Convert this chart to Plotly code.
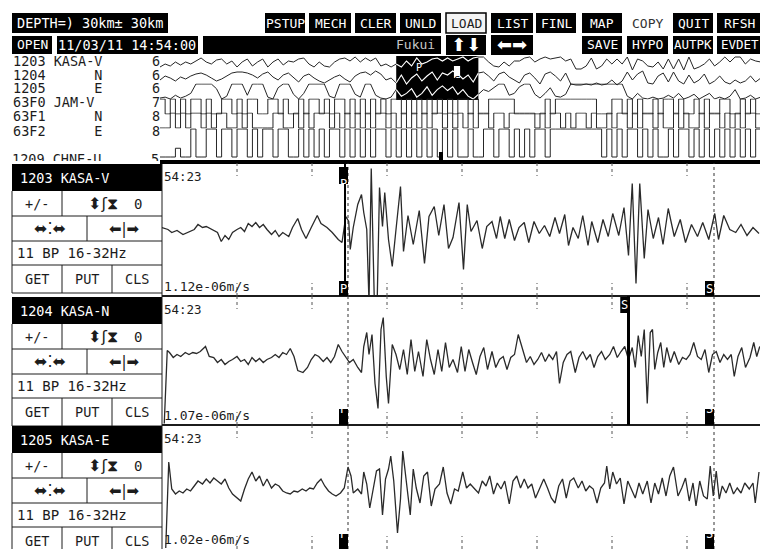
import numpy as np
import plotly.graph_objects as go

# ------------------------------------------------------------------
# Waveform data (amplitude in counts, time in s after 14:54:23)
# ------------------------------------------------------------------
KASA_V_T = [0.00, 0.08, 0.13, 0.20, 0.28, 0.36, 0.43, 0.48, 0.54, 0.59,
            0.66, 0.74, 0.79, 0.84, 0.89, 0.94, 1.00, 1.05, 1.10, 1.15,
            1.20, 1.25, 1.30, 1.35, 1.40, 1.46, 1.51, 1.56, 1.61, 1.69,
            1.74, 1.81, 1.86, 1.92, 1.99, 2.07, 2.12, 2.20, 2.27, 2.35,
            2.40, 2.45,
            2.49, 2.51, 2.55, 2.61, 2.66, 2.69, 2.73, 2.76, 2.79, 2.83,
            2.87, 2.90, 2.94, 2.97, 3.02, 3.07, 3.12, 3.18, 3.22, 3.28,
            3.35, 3.43, 3.50, 3.56, 3.63, 3.69, 3.76, 3.82, 3.88, 3.96,
            4.02, 4.07, 4.12, 4.20, 4.27, 4.33, 4.40, 4.46, 4.51, 4.57,
            4.63, 4.70, 4.76, 4.83, 4.89, 4.96, 5.03, 5.10, 5.17, 5.24,
            5.30, 5.37, 5.42, 5.48, 5.55, 5.61, 5.68, 5.73, 5.81, 5.88,
            5.95, 6.01, 6.09, 6.16, 6.22, 6.27, 6.32, 6.37, 6.43, 6.48,
            6.55, 6.62, 6.68, 6.75, 6.83, 6.91, 6.98, 7.06, 7.14, 7.21,
            7.29, 7.37, 7.42, 7.49, 7.57, 7.65, 7.72, 7.80, 7.88, 7.96]
KASA_V_A = [2, 0, -3, -1, -5, -2, 0, 5, 2, 3,
            0, -3, -12, -6, -10, -3, 0, 2, -2, 6,
            3, 7, 2, 5, 0, -5, -1, -7, -3, -7,
            2, 11, 0, -9, 2, 14, 6, 2, -3, -10,
            -13, 13,
            8, -20, 2, 25, 35, 17, 0, -73, 61, -69,
            -69, 42, 3, 37, -10, -37, 0, 43, -22, 14,
            -15, 19, -34, 13, 23, -6, 25, -19, -8, 27,
            -40, 25, -2, 9, -19, 3, 8, -9, 13, -9,
            10, -11, 2, 7, -13, 8, -4, 4, -7, 12,
            -4, 15, -16, 2, -9, 14, -16, 8, -13, 10,
            -7, 16, -6, 22, -26, 46, -54, 46, -29, 20,
            -9, 12, -15, 21, -7, 10, -13, 5, -7, 7,
            -10, 16, -10, 14, 0, -3, 5, -6, 2, -4]

KASA_N_T = [0.03, 0.07, 0.10, 0.15, 0.20, 0.25, 0.31, 0.36, 0.41, 0.46,
            0.51, 0.58, 0.63, 0.69, 0.74, 0.79, 0.84, 0.89, 0.94, 1.00,
            1.05, 1.10, 1.15, 1.20, 1.25, 1.30, 1.35, 1.40, 1.46, 1.51,
            1.56, 1.61, 1.66, 1.71, 1.76, 1.81, 1.88, 1.94, 1.99, 2.04,
            2.09, 2.15, 2.20, 2.25, 2.30, 2.35, 2.40, 2.45, 2.50, 2.55,
            2.61, 2.66, 2.69, 2.73, 2.76, 2.80, 2.84, 2.88, 2.92, 2.95,
            2.99, 3.02, 3.07, 3.12, 3.17, 3.22, 3.27, 3.32, 3.37, 3.42,
            3.48, 3.53, 3.58, 3.63, 3.68, 3.73, 3.78, 3.83, 3.88, 3.94,
            3.99, 4.04, 4.09, 4.14, 4.19, 4.24, 4.29, 4.34, 4.40, 4.45,
            4.50, 4.55, 4.60, 4.65, 4.70, 4.75, 4.80, 4.86, 4.91, 4.96,
            5.01, 5.06, 5.11, 5.16, 5.21, 5.26, 5.30, 5.35, 5.40, 5.45,
            5.51, 5.56, 5.61, 5.66, 5.71, 5.76, 5.81, 5.86, 5.91, 5.97,
            6.02, 6.07, 6.12, 6.17, 6.22, 6.27, 6.31, 6.35, 6.39, 6.43,
            6.47, 6.51, 6.54, 6.57, 6.61, 6.65, 6.69, 6.73, 6.78, 6.83,
            6.89, 6.94, 6.99, 7.04, 7.09, 7.14, 7.19, 7.24, 7.29, 7.34,
            7.39, 7.44, 7.49, 7.54, 7.59, 7.63, 7.68, 7.73, 7.78, 7.84,
            7.89, 7.93, 7.97]
KASA_N_A = [-63, 10, 8, 3, 6, 4, 8, 6, 8, 7,
            9, 14, 4, 3, -2, 1, -4, -1, 1, 4,
            -1, 1, -4, 3, -1, 2, -2, 1, 3, 6,
            3, 8, 6, 12, 4, -10, -12, -7, 1, 6,
            4, -1, 3, -2, 4, 16, 9, 4, -2, 1,
            -7, -12, 14, 28, 6, 26, -23, -48, 31, 43,
            -16, -43, 16, 6, -9, 11, -14, 21, -11, 9,
            -16, 21, 1, -14, 11, -11, 18, -7, 1, -12,
            14, -11, 11, -2, -14, 4, 13, -9, 9, -7,
            1, 4, -9, 3, 6, 26, 14, -2, 4, -4,
            1, 8, -1, 6, 1, 9, -23, -2, 6, 9,
            -12, 3, 9, 1, 6, -7, 4, 9, 1, 6,
            14, 3, 9, 14, 1, 13, -7, 25, 4, 31,
            -43, 28, 31, -9, 8, 18, -7, 13, -2, 9,
            -4, 3, 1, 6, 18, 4, 1, 11, -12, 6,
            9, -2, 6, 1, 6, -16, 4, 13, -7, 3,
            18, 4, 14]

KASA_E_T = [0.05, 0.09, 0.13, 0.18, 0.23, 0.28, 0.33, 0.38, 0.43, 0.48,
            0.54, 0.59, 0.64, 0.69, 0.74, 0.79, 0.84, 0.89, 0.94, 1.00,
            1.05, 1.10, 1.15, 1.20, 1.25, 1.30, 1.35, 1.40, 1.46, 1.51,
            1.56, 1.61, 1.66, 1.71, 1.76, 1.81, 1.87, 1.92, 1.97, 2.02,
            2.07, 2.12, 2.17, 2.22, 2.27, 2.32, 2.38, 2.43, 2.48, 2.52,
            2.55, 2.61, 2.66, 2.69, 2.73, 2.77, 2.82, 2.86, 2.90, 2.94,
            2.98, 3.02, 3.05, 3.09, 3.14, 3.18, 3.21, 3.26, 3.31, 3.35,
            3.39, 3.44, 3.49, 3.54, 3.59, 3.64, 3.70, 3.75, 3.80, 3.85,
            3.90, 3.95, 4.01, 4.06, 4.11, 4.17, 4.22, 4.27, 4.32, 4.37,
            4.42, 4.47, 4.52, 4.57, 4.63, 4.68, 4.73, 4.78, 4.83, 4.88,
            4.93, 4.98, 5.03, 5.09, 5.14, 5.19, 5.24, 5.29, 5.34, 5.39,
            5.44, 5.49, 5.55, 5.60, 5.65, 5.70, 5.75, 5.80, 5.85, 5.90,
            5.93, 5.97, 6.01, 6.06, 6.11, 6.16, 6.21, 6.26, 6.31, 6.36,
            6.41, 6.47, 6.52, 6.57, 6.62, 6.67, 6.72, 6.77, 6.82, 6.88,
            6.93, 6.98, 7.03, 7.08, 7.12, 7.17, 7.22, 7.27, 7.31, 7.35,
            7.39, 7.43, 7.47, 7.52, 7.57, 7.62, 7.67, 7.72, 7.77, 7.83,
            7.88, 7.91, 7.96]
KASA_E_A = [-58, 28, 1, -4, -1, -3, 1, -1, 4, 9,
            6, 11, 7, 12, 9, 6, 11, 2, -4, -8,
            -11, 1, 11, 18, 9, 14, 4, 11, 2, 6,
            4, -1, -3, -4, -1, -2, 1, -1, 2, 1,
            7, 11, 4, -1, -4, -6, -3, 2, 23, 14,
            -3, 1, -4, 18, 6, -18, 1, 19, 21, -25,
            11, 21, 34, 9, -43, -9, 39, 7, -25, 21,
            2, -13, 14, 18, -16, 1, 6, 23, -3, -14,
            1, -1, 18, 2, 6, 1, -3, 9, 4, 14,
            -4, 7, 1, 9, -14, 9, 14, 2, 11, 2,
            6, -8, 1, 11, 2, -8, -13, 4, 11, -8,
            9, 12, 2, 9, -1, 4, 1, -13, 2, 7,
            24, 1, 18, 6, 12, -14, 9, 1, -8, 7,
            -4, 9, -13, 7, -4, 12, -6, 14, 23, -6,
            2, 12, -11, 7, -16, 9, -6, -9, 24, -6,
            19, -9, 4, -3, 7, -4, 2, -3, 7, 1,
            7, -13, 18]

# Overview monitor: 0.5 s samples from 14:54:00, clipped at +/-8 counts
OV_DT = 0.5
OV_1203 = [-3, 0, -2, 2, -1, 2, 0, 3, 6, 2,
           0, 4, 5, 0, 3, -3, 2, 5, -2, 2,
           5, -3, 2, 5, -1, 3, 2, 5, 6, 0,
           -3, 2, -2, -3, 2, 5, 6, 3, 7, 2,
           6, 3, 6, -2, 0, -3, 0, -3, 3, -2,
           6, 0, 2, 5, 6, 3, 6, 3, 5, 7,
           3, 6, 7, 7, 2, -2, -3, 2, -2, 3,
           3, 6, 7, 2, 5, 7, 5, 6, 7, 3,
           5, -5, -5, -2, 6, -5, -2, 5, 0, 5,
           0, 7, -6, 5, 3, -2, -3, 2, -5, 5,
           -5, 5, -6, 7, -5, -3, 0, 5, -2, 2,
           7, 2, 7, 7, 0, 5, 3, 2]
OV_1204 = [-2, 2, 0, -3, 1, -1, 2, 4, 5, 3,
           0, -3, -1, 2, 5, 6, 6, 5, 3, 0,
           4, 6, 1, -2, 3, 5, 0, -4, 2, 4,
           0, -3, -5, -2, 1, 3, -1, -4, 2, 5,
           6, 3, 7, 4, -2, 0, -5, 3, -6, 0,
           4, -3, 2, 6, -2, 5, 3, 7, 4, -1,
           3, -4, 5, 6, 2, -3, 4, 6, 1, -2,
           -5, 3, 5, 0, -6, 4, 6, 2, -3, 5,
           -6, -7, -7, -6, -7, -5, -7, -6, -2, -7,
           -3, 6, -2, 4, 7, -5, -6, 2, 5, -4,
           6, -3, -6, 3, -5, -2, 4, -6, -3, 2,
           -4, -6, -2, -5, -3, 2, -4, 0]
OV_1205 = [-7, -6, -8, -4, -7, -5, -2, 8, 8, 8,
           8, 3, -8, -5, 8, 8, 8, -4, 8, 8,
           8, -6, -8, 4, 8, 8, -3, -8, -2, 8,
           8, 8, 8, -5, -7, 8, 8, 8, -3, -6,
           8, 8, -4, -7, -8, -6, 2, -5, -2, 3,
           -6, -2, 5, -4, 2, 6, 1, 5, -3, 2,
           -5, -8, -3, 2, 0, 4, 8, 8, -4, -2,
           5, 8, 8, -3, -7, -2, 4, -5, -6, -3,
           8, 8, 8, 8, 8, 8, 8, 8, 8, 8,
           8, -5, -8, -2, -7, -8, -6, -8, -7, -4,
           -7, -2, -8, -6, -3, -8, -5, -2, -8, -6,
           -8, -5, 2, -8, -7, -4, -8, -6]
OV_63F0 = [8, -8, 8, -8, 8, -8, 8, 8, -8, 8,
           -8, -8, 8, 8, -8, 8, -8, 8, 8, -8,
           -8, 8, 8, -8, 8, -8, -8, 8, -8, 8,
           8, -8, 8, -8, 8, 8, -8, 8, -8, 8,
           -8, 8, -8, 8, -8, 8, 8, -8, 8, -8,
           8, -8, 8, -8, 8, -8, 8, -8, 8, 8,
           -8, 8, -8, -8, 8, 8, 8, 8, 8, -8,
           -8, -8, -8, -8, -8, 8, -8, 8, 8, 8,
           8, 8, 8, 8, 8, -8, -8, -8, 8, 8,
           -8, 8, -8, 8, -8, -8, 8, -8, 8, 8,
           -8, 8, -8, -8, 8, -8, 8, -8, -8, 8,
           8, -8, -8, 8, -8, 8, -8, 8]
OV_63F1 = [-8, -8, 8, -8, 8, -8, 8, 8, -8, 8,
           -8, 8, 8, -8, -8, 8, -8, 8, -8, -8,
           -8, -8, 8, 8, -8, -8, 8, -8, 8, -8,
           8, 8, 8, -8, 8, -8, 8, -8, 8, -8,
           8, -8, 8, 8, -8, 8, -8, 8, -8, 8,
           -8, 8, -8, 8, 8, -8, 8, -8, 8, -8,
           8, -8, 8, 8, -8, 8, 8, -8, 8, 8,
           8, 8, 8, -8, 8, -8, 8, 8, -8, 8,
           -8, 8, 8, -8, 8, -8, -8, 8, -8, 8,
           8, -8, 8, -8, 8, 8, -8, 8, -8, -8,
           8, -8, 8, -8, -8, 8, -8, 8, 8, -8,
           8, -8, 8, -8, 8, 8, -8, -8]
OV_63F2 = [-8, -8, -8, -3, -8, -8, 8, -8, -8, 8,
           8, -8, 8, 8, -8, 8, 8, -8, 8, -8,
           8, 8, -8, 8, 8, -8, -8, 8, -8, 8,
           -8, 8, -8, 8, 8, -8, 8, -8, 8, -8,
           8, -8, 8, 8, -8, 8, -8, 8, -8, 8,
           -8, 8, -8, 8, -8, 8, -8, 8, -8, -8,
           8, -8, -8, 8, 8, -8, 8, 8, -8, 8,
           -8, 8, -8, 8, 8, -8, 8, 8, 8, 8,
           8, 8, 8, 8, 8, 8, -8, 8, -8, 8,
           -8, 8, 8, -8, 8, -8, 8, -8, -8, 8,
           -8, 8, 8, -8, 8, -8, 8, -8, 8, -8,
           8, -8, 8, -8, 8, -8, 8, -8]

# Station labels / channel names
PANEL_NAMES = ["1203 KASA-V", "1204 KASA-N", "1205 KASA-E"]
PANEL_SCALES = ["1.12e-06m/s", "1.07e-06m/s", "1.02e-06m/s"]
PANEL_START = "54:23"
FILTER_TEXT = "11 BP 16-32Hz"
OV_CODES = ["1203", "1204", "1205", "63F0", "63F1", "63F2"]
OV_COMPS = ["KASA-V", "N", "E", "JAM-V", "N", "E"]
OV_GAINS = ["6", "6", "6", "7", "8", "8"]
OV_HIDDEN = ("1209 CHNE-U", "5")

BUTTONS_TOP = ["PSTUP", "MECH", "CLER", "UNLD", "LOAD", "LIST", "FINL",
               "MAP", "COPY", "QUIT", "RFSH"]
BUTTONS_BOTTOM = ["SAVE", "HYPO", "AUTPK", "EVDET"]
DEPTH_TEXT = "DEPTH=) 30km\u00b1 30km"
DATE_TEXT = "11/03/11 14:54:00"
REGION_TEXT = "Fukui"

P_TIME = 2.48        # P arrival (dotted marker)
P_PICK = 2.44        # P pick drawn on the vertical channel
S_TIME = 7.36        # S arrival (dotted marker)
S_PICK = 6.22        # S pick drawn on the N channel
TICK_TIMES = [1, 2, 3, 4, 5, 6, 7]
WINDOW_START = 23.0  # seconds after 14:54:00
WINDOW_LEN = 8.0

# ------------------------------------------------------------------
# Page geometry helpers (pixels -> paper fractions)
# ------------------------------------------------------------------
W, H = 760, 549
INK = "#1c1c1c"
FONT = "DejaVu Sans Mono, Liberation Mono, monospace"
SYM = "DejaVu Sans, sans-serif"
NB = "\u00a0"


def fx(px):
    return px / W


def fy(py):
    return 1 - py / H


shapes = []
anns = []


def rect(x0, y0, x1, y1, fill=None, edge=None, lw=1, layer="above"):
    shapes.append(dict(type="rect", xref="paper", yref="paper",
                       x0=fx(x0), x1=fx(x1), y0=fy(y1), y1=fy(y0),
                       fillcolor=fill or "rgba(0,0,0,0)",
                       line=dict(color=edge or "rgba(0,0,0,0)",
                                 width=lw if edge else 0),
                       layer=layer))


def hline(x0, x1, y, color=INK, lw=1):
    shapes.append(dict(type="line", xref="paper", yref="paper",
                       x0=fx(x0), x1=fx(x1), y0=fy(y), y1=fy(y),
                       line=dict(color=color, width=lw)))


def vline(x, y0, y1, color=INK, lw=1):
    shapes.append(dict(type="line", xref="paper", yref="paper",
                       x0=fx(x), x1=fx(x), y0=fy(y0), y1=fy(y1),
                       line=dict(color=color, width=lw)))


def text(s, x, y, size=13.5, color=INK, anchor="center", family=FONT):
    anns.append(dict(text=s, x=fx(x), y=fy(y), xref="paper", yref="paper",
                     showarrow=False, xanchor=anchor, yanchor="middle",
                     borderpad=0,
                     font=dict(family=family, size=size, color=color)))


# ------------------------------------------------------------------
# Figure and axes
# ------------------------------------------------------------------
fig = go.Figure()

MAIN_X0 = 162
PANEL_BOUNDS = [(163, 296), (296, 425), (425, 549)]
PANEL_RANGES = [(-66.5, 66.5), (-64.5, 64.5), (-59, 65)]
OV_X0 = 160
OV_LEVELS = [(56, 72), (70, 86), (84, 99), (99, 114), (113, 128), (129, 157)]

axes = {}
axes["xaxis"] = dict(domain=[fx(MAIN_X0), 1], range=[0, (W - MAIN_X0) / 75.0],
                     anchor="y")
for i, ((top, bot), rng) in enumerate(zip(PANEL_BOUNDS, PANEL_RANGES)):
    key = "yaxis" if i == 0 else f"yaxis{i + 1}"
    axes[key] = dict(domain=[fy(bot), fy(top)], range=list(rng), anchor="x")

OV_SPAN = (W - OV_X0) / 10.27
axes["xaxis2"] = dict(domain=[fx(OV_X0), 1], range=[0, OV_SPAN], anchor="y4")
for j, (top, bot) in enumerate(OV_LEVELS):
    pad = (bot - top) / 32.0
    axes[f"yaxis{4 + j}"] = dict(domain=[fy(bot + pad), fy(top - pad)],
                                 range=[-8.5, 8.5], anchor="x2")

# small clipped strip holding the partly hidden next station row
axes["xaxis3"] = dict(domain=[0, fx(OV_X0)], range=[0, OV_X0], anchor="y10")
axes["yaxis10"] = dict(domain=[fy(161), fy(140)], range=[0, 21], anchor="x3")

for k, v in axes.items():
    v.update(visible=False, showgrid=False, zeroline=False, fixedrange=True)

# main seismograms
for i, (t, a) in enumerate([(KASA_V_T, KASA_V_A), (KASA_N_T, KASA_N_A),
                            (KASA_E_T, KASA_E_A)]):
    fig.add_trace(go.Scatter(x=t, y=a, xaxis="x",
                             yaxis="y" if i == 0 else f"y{i + 1}",
                             mode="lines", line=dict(color="#2a2a2a", width=1.3),
                             hoverinfo="skip", showlegend=False))

# overview monitor traces
ov_series = [OV_1203, OV_1204, OV_1205, OV_63F0, OV_63F1, OV_63F2]
t_ov = np.arange(len(OV_1203)) * OV_DT
in_box = (t_ov >= WINDOW_START) & (t_ov <= WINDOW_START + WINDOW_LEN)
for j, vals in enumerate(ov_series):
    vals = np.asarray(vals)
    shape = "linear" if j < 3 else "hv"
    fig.add_trace(go.Scatter(x=t_ov, y=vals, xaxis="x2", yaxis=f"y{4 + j}",
                             mode="lines",
                             line=dict(color="#262626", width=1.0, shape=shape),
                             hoverinfo="skip", showlegend=False))
    if j < 3:
        fig.add_trace(go.Scatter(x=t_ov[in_box], y=vals[in_box], xaxis="x2",
                                 yaxis=f"y{4 + j}", mode="lines",
                                 line=dict(color="white", width=1.1),
                                 hoverinfo="skip", showlegend=False))

fig.add_trace(go.Scatter(x=[12, 151], y=[0, 0], xaxis="x3", yaxis="y10",
                         mode="text", text=list(OV_HIDDEN),
                         textposition="middle right", cliponaxis=True,
                         textfont=dict(family=FONT, size=13.5, color=INK),
                         hoverinfo="skip", showlegend=False))

# ------------------------------------------------------------------
# Top button bars
# ------------------------------------------------------------------
TOP_Y = (13, 33)
BOT_Y = (36, 54)
top_x = [(265, 305), (309, 351), (355, 396), (400, 441), (446, 486),
         (491, 533), (536, 576), (582, 622), (626, 668), (673, 713),
         (717, 762)]
rect(12, TOP_Y[0], 168, TOP_Y[1], fill="black")
text(DEPTH_TEXT, 90, 23, size=13.5, color="white")
for lab, (x0, x1) in zip(BUTTONS_TOP, top_x):
    if lab == "LOAD":
        rect(x0, TOP_Y[0], x1, TOP_Y[1], fill="#f4f4f4", edge="black", lw=1.5)
        col = INK
    elif lab == "COPY":
        col = "#333333"
    else:
        rect(x0, TOP_Y[0], x1, TOP_Y[1], fill="black")
        col = "white"
    text(lab, (x0 + x1) / 2, 23, size=13, color=col)

rect(12, BOT_Y[0], 52, BOT_Y[1], fill="black")
text("OPEN", 32, 45, size=13, color="white")
rect(57, BOT_Y[0], 198, BOT_Y[1], fill="black")
text(DATE_TEXT, 127, 45, size=13.5, color="white")
rect(203, BOT_Y[0], 441, BOT_Y[1], fill="black")
text(REGION_TEXT, 436, 45, size=13, color="#c8c8c8", anchor="right")
rect(446, 35, 486, 55, fill="black")
text("\u2b06\u2b07", 466, 45, size=18, color="white", family=SYM)
rect(491, 35, 533, 55, fill="black")
text("\u2b05\u27a1", 512, 45, size=18, color="white", family=SYM)
bot_x = [(582, 622), (627, 668), (673, 713), (717, 762)]
for lab, (x0, x1) in zip(BUTTONS_BOTTOM, bot_x):
    rect(x0, BOT_Y[0], x1, BOT_Y[1], fill="black")
    text(lab, (x0 + x1) / 2, 45, size=13 if len(lab) < 5 else 12.5,
         color="white")

# ------------------------------------------------------------------
# Overview labels, highlight window and markers
# ------------------------------------------------------------------
ROW_Y = [61, 75, 88, 102, 116, 131]
for code, comp, gain, y in zip(OV_CODES, OV_COMPS, OV_GAINS, ROW_Y):
    gap = 1 if len(comp) > 1 else 6
    text(code + NB * gap + comp, 12, y, anchor="left")
    text(gain, 156, y)

shapes.append(dict(type="rect", xref="x2", yref="paper",
                   x0=WINDOW_START, x1=WINDOW_START + WINDOW_LEN,
                   y0=fy(100), y1=fy(56), fillcolor="black",
                   line=dict(width=0), layer="below"))
# picks echoed inside the highlighted window
shapes.append(dict(type="rect", xref="x2", yref="paper",
                   x0=WINDOW_START + S_PICK - 0.6, x1=WINDOW_START + S_PICK,
                   y0=fy(78), y1=fy(66), fillcolor="white",
                   line=dict(width=0)))
anns.append(dict(text="S", x=WINDOW_START + S_PICK - 0.3, y=fy(72),
                 xref="x2", yref="paper", showarrow=False,
                 font=dict(family=FONT, size=11, color="black")))
anns.append(dict(text="P", x=WINDOW_START + P_TIME - 0.3, y=fy(60),
                 xref="x2", yref="paper", showarrow=False,
                 font=dict(family=FONT, size=10, color="white")))

# bar separating the monitor from the panels
rect(160, 160, 760, 164, fill="black")
rect(439, 152, 443, 162, fill="black")

# ------------------------------------------------------------------
# Channel control panels
# ------------------------------------------------------------------
PANEL_TOPS = [164, 297, 426]
for name, T in zip(PANEL_NAMES, PANEL_TOPS):
    r = [T, T + 27, T + 52, T + 77, T + 101, T + 129]
    rect(12, r[0], 162, r[1], fill="black")
    text(name, 19, (r[0] + r[1]) / 2, color="white", anchor="left")
    for yy in r[2:]:
        hline(12, 162, yy)
    vline(12, r[1], r[5])
    vline(62, r[1], r[2])
    vline(87, r[2], r[3])
    vline(62, r[4], r[5])
    vline(112, r[4], r[5])
    text("+/-", 37, (r[1] + r[2]) / 2, size=13.5)
    text("\u2b0d\u0283\u29d7", 103, (r[1] + r[2]) / 2, size=16, family=SYM)
    text("0", 138, (r[1] + r[2]) / 2, size=14)
    text("\u2b0c\u205a\u2b0c", 50, (r[2] + r[3]) / 2, size=16, family=SYM)
    text("\u2b05|\u27a1", 124, (r[2] + r[3]) / 2, size=15, family=SYM)
    text(FILTER_TEXT, 16, (r[3] + r[4]) / 2, size=14, anchor="left")
    text("GET", 37, (r[4] + r[5]) / 2, size=13.5)
    text("PUT", 87, (r[4] + r[5]) / 2, size=13.5)
    text("CLS", 137, (r[4] + r[5]) / 2, size=13.5)

vline(162, 164, 549)

# ------------------------------------------------------------------
# Waveform panel decorations
# ------------------------------------------------------------------
hline(162, 760, 296, lw=2)
hline(162, 760, 425, lw=2)

for i, ((top, bot), scale) in enumerate(zip(PANEL_BOUNDS, PANEL_SCALES)):
    yref = "y domain" if i == 0 else f"y{i + 1} domain"
    h = bot - top
    tl = 13.0 / h
    for t in TICK_TIMES:
        for y0, y1 in ((1, 1 - tl), (0, tl)):
            shapes.append(dict(type="line", xref="x", yref=yref, x0=t, x1=t,
                               y0=y0, y1=y1,
                               line=dict(color="#555555", width=1, dash="dot")))
    for t in (P_TIME, S_TIME):
        shapes.append(dict(type="line", xref="x", yref=yref, x0=t, x1=t,
                           y0=0, y1=1,
                           line=dict(color="#333333", width=1, dash="dot")))
    text(PANEL_START, 163, top + 13, size=12.5, anchor="left")
    text(scale, 163, bot - 10, size=13, anchor="left")

# solid picks
shapes.append(dict(type="line", xref="x", yref="y domain", x0=P_PICK,
                   x1=P_PICK, y0=0, y1=1, line=dict(color="black", width=2)))
shapes.append(dict(type="line", xref="x", yref="y2 domain", x0=S_PICK,
                   x1=S_PICK, y0=0, y1=1, line=dict(color="black", width=3)))


def pick_box(t, y0, y1, letter):
    shapes.append(dict(type="rect", xref="x", yref="paper", x0=t - 0.12,
                       x1=t, y0=fy(y1), y1=fy(y0), fillcolor="black",
                       line=dict(width=0)))
    anns.append(dict(text=letter, x=t - 0.06, y=fy((y0 + y1) / 2), xref="x",
                     yref="paper", showarrow=False, borderpad=0,
                     font=dict(family=FONT, size=12, color="white")))


pick_box(P_TIME, 167, 184, "P")
pick_box(P_TIME, 281, 296, "P")
pick_box(S_TIME, 281, 296, "S")
pick_box(S_PICK + 0.01, 297, 313, "S")
pick_box(P_TIME, 409, 425, "P")
pick_box(S_TIME, 409, 425, "S")
pick_box(P_TIME, 534, 549, "P")
pick_box(S_TIME, 534, 549, "S")

fig.update_layout(width=W, height=H, margin=dict(l=0, r=0, t=0, b=0),
                  paper_bgcolor="white", plot_bgcolor="rgba(0,0,0,0)",
                  showlegend=False, shapes=shapes, annotations=anns, **axes)

fig.write_html("out.html", config={"displayModeBar": False})
